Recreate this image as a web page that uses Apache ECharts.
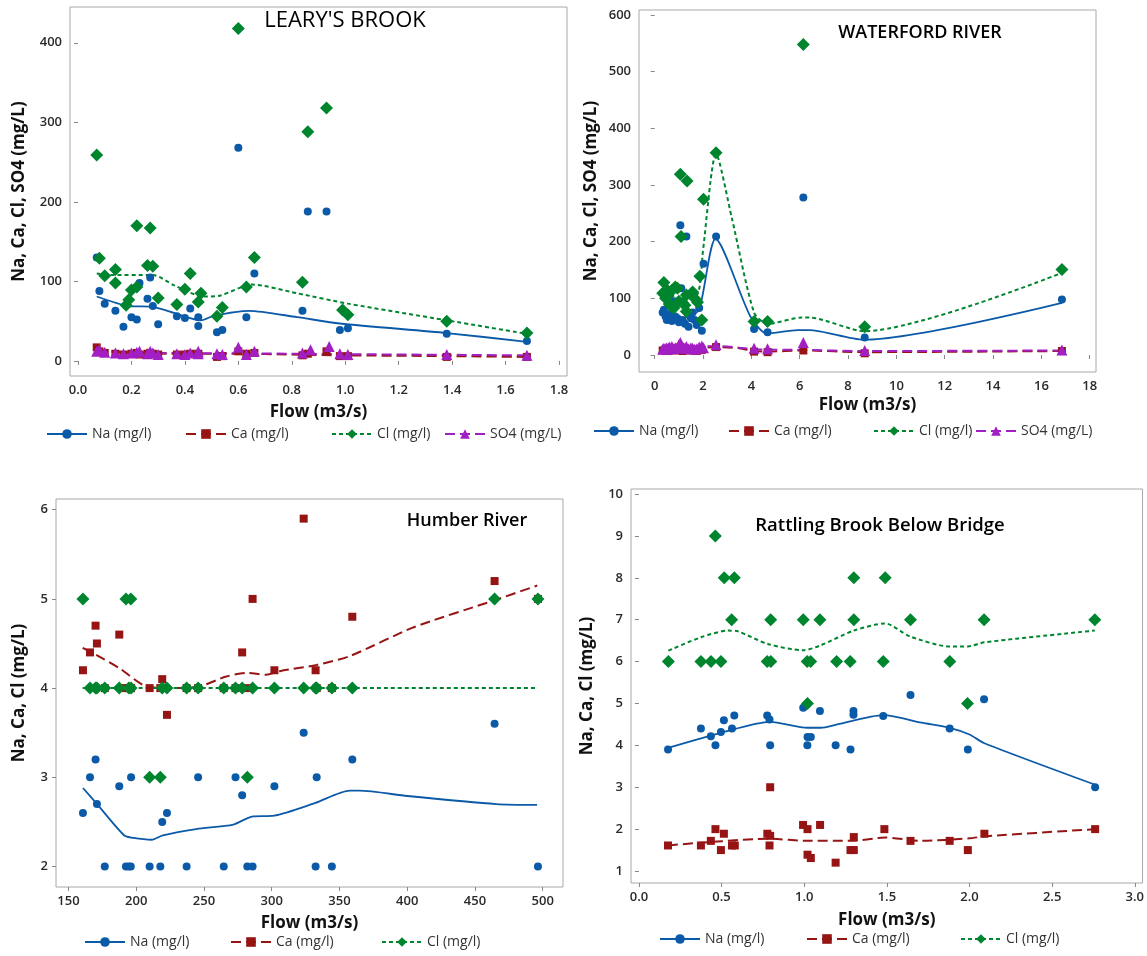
<!DOCTYPE html>
<html><head><meta charset="utf-8">
<script src="https://cdn.jsdelivr.net/npm/echarts/dist/echarts.min.js"></script>
<style>html,body{margin:0;padding:0;background:#fff}#c{width:1147px;height:956px}</style>
</head><body><div id="c"></div><script>
// ---------- Panel titles ----------
const titles = ["LEARY'S BROOK", "WATERFORD RIVER", "Humber River", "Rattling Brook Below Bridge"];
const xTitle = "Flow (m3/s)";
const yTitles = ["Na, Ca, Cl, SO4 (mg/L)", "Na, Ca, Cl, SO4 (mg/L)", "Na, Ca, Cl (mg/L)", "Na, Ca, Cl (mg/L)"];

// ---------- Tick labels ----------
const xTicks1 = [0.0,0.2,0.4,0.6,0.8,1.0,1.2,1.4,1.6,1.8];
const yTicks1 = [0,100,200,300,400];
const xTicks2 = [0,2,4,6,8,10,12,14,16,18];
const yTicks2 = [0,100,200,300,400,500,600];
const xTicks3 = [150,200,250,300,350,400,450,500];
const yTicks3 = [2,3,4,5,6];
const xTicks4 = [0.0,0.5,1.0,1.5,2.0,2.5,3.0];
const yTicks4 = [1,2,3,4,5,6,7,8,9,10];

// ---------- LEARY'S BROOK [flow, value] ----------
const learyNa = [[0.07,130],[0.08,88],[0.10,72],[0.14,63],[0.17,43],[0.20,55],[0.22,52],[0.23,98],[0.26,78],[0.27,105],[0.28,69],[0.30,46],[0.37,56],[0.40,54],[0.42,66],[0.45,55],[0.45,44],[0.52,36],[0.54,39],[0.60,268],[0.63,55],[0.66,110],[0.84,63],[0.86,188],[0.93,188],[0.98,39],[1.01,41],[1.38,34],[1.68,25]];
const learyCa = [[0.07,17],[0.08,12],[0.10,10],[0.14,9],[0.17,8],[0.20,9],[0.22,10],[0.23,8],[0.26,9],[0.27,10],[0.28,9],[0.30,8],[0.37,8],[0.40,8],[0.42,9],[0.45,8],[0.45,9],[0.52,5],[0.54,6],[0.60,12],[0.63,9],[0.66,10],[0.84,7],[0.86,9],[0.93,12],[0.98,6],[1.01,6],[1.38,5],[1.68,5]];
const learyCl = [[0.07,259],[0.08,129],[0.10,107],[0.14,115],[0.14,98],[0.18,70],[0.19,77],[0.20,89],[0.22,93],[0.22,170],[0.27,167],[0.26,120],[0.28,119],[0.30,79],[0.37,71],[0.40,90],[0.42,110],[0.45,74],[0.46,85],[0.52,56],[0.54,67],[0.60,418],[0.63,93],[0.66,130],[0.84,99],[0.86,288],[0.93,318],[0.99,64],[1.01,58],[1.38,50],[1.68,35]];
const learySO4 = [[0.07,12],[0.08,14],[0.10,11],[0.14,10],[0.17,9],[0.20,10],[0.22,11],[0.23,12],[0.26,9],[0.27,12],[0.28,10],[0.30,8],[0.37,9],[0.40,8],[0.42,10],[0.45,12],[0.45,9],[0.52,9],[0.54,8],[0.60,17],[0.63,8],[0.66,12],[0.84,10],[0.87,14],[0.94,18],[0.98,9],[1.01,8],[1.38,8],[1.68,7]];
const learyNaFit = [[0.07,81],[0.19,69],[0.28,68],[0.37,59],[0.46,51],[0.51,57],[0.64,63],[0.82,55],[0.98,47],[1.38,35],[1.68,24]];
const learyCaFit = [[0.07,14],[0.20,10],[0.40,9],[0.60,9],[0.80,8],[1.00,7],[1.38,6],[1.68,5]];
const learyClFit = [[0.07,110],[0.12,108],[0.28,108],[0.36,95],[0.47,81],[0.53,82],[0.65,96],[0.82,85],[1.01,72],[1.38,51],[1.68,34]];
const learySO4Fit = [[0.07,12],[0.30,10],[0.60,9.5],[1.00,8.5],[1.68,7]];

// ---------- WATERFORD RIVER ----------
const waterNa = [[0.33,75],[0.38,80],[0.45,68],[0.5,62],[0.56,72],[0.6,65],[0.66,70],[0.71,60],[0.79,95],[0.85,68],[0.94,65],[1.0,58],[1.06,229],[1.1,118],[1.16,62],[1.25,55],[1.31,209],[1.4,50],[1.5,65],[1.57,75],[1.65,62],[1.74,53],[1.84,83],[1.95,43],[2.02,161],[2.54,209],[4.11,46],[4.67,40],[6.15,278],[8.69,31],[16.85,98]];
const waterCa = [[0.33,8],[0.45,10],[0.56,7],[0.66,9],[0.79,12],[0.94,8],[1.06,14],[1.16,7],[1.31,10],[1.5,8],[1.74,7],[1.95,9],[2.54,14],[4.11,6],[4.67,5],[6.15,8],[8.69,3],[16.85,7]];
const waterCl = [[0.33,109],[0.38,128],[0.45,100],[0.5,115],[0.56,104],[0.6,90],[0.66,87],[0.71,114],[0.79,83],[0.85,120],[0.94,118],[1.0,95],[1.06,319],[1.09,209],[1.16,92],[1.25,88],[1.31,106],[1.31,77],[1.34,307],[1.57,111],[1.65,100],[1.77,93],[1.87,139],[1.95,62],[2.02,275],[2.54,357],[4.11,59],[4.67,59],[6.15,548],[8.69,50],[16.85,151]];
const waterSO4 = [[0.33,10],[0.38,12],[0.45,11],[0.5,13],[0.56,10],[0.6,14],[0.66,12],[0.71,15],[0.79,11],[0.85,13],[0.94,12],[1.0,18],[1.06,22],[1.1,16],[1.16,14],[1.25,12],[1.31,15],[1.4,11],[1.5,13],[1.57,12],[1.65,10],[1.74,11],[1.84,14],[1.95,16],[2.02,13],[2.54,18],[4.11,12],[4.67,11],[6.15,22],[8.69,8],[16.85,9]];
const waterNaFit = [[0.33,72],[0.6,68],[1.0,65],[1.4,68],[1.84,80],[2.52,205],[3.96,68],[4.64,38],[5.92,44],[6.4,44],[8.64,27],[16.85,92]];
const waterCaFit = [[0.33,8],[1.0,9],[2.54,14],[3.5,12],[4.11,7],[4.67,6],[6.15,8],[8.69,5],[16.85,7]];
const waterClFit = [[0.33,100],[0.8,98],[1.3,95],[1.8,110],[2.0,185],[2.54,355],[3.2,240],[4.11,75],[4.67,55],[6.1,66],[6.4,66],[8.69,42],[16.85,145]];
const waterSO4Fit = [[0.33,10],[1.0,13],[2.54,16],[3.5,13],[4.11,10],[6.15,9],[8.69,7],[16.85,8]];

// ---------- HUMBER RIVER ----------
const humFlow = [160.7,165.9,170,171,176.8,187.5,192.4,194.6,196,196.2,209.9,217.8,219.2,222.7,237.2,245.7,264.6,273.3,278.2,282,285.9,302,323.6,332.4,333.2,344.4,359.5,464.5,496.5];
const humNa = [2.6,3.0,3.2,2.7,2.0,2.9,2.0,2.0,2.0,3.0,2.0,2.0,2.5,2.6,2.0,3.0,2.0,3.0,2.8,2.0,2.0,2.9,3.5,2.0,3.0,2.0,3.2,3.6,2.0];
const humCa = [4.2,4.4,4.7,4.5,4.0,4.6,4.0,4.0,4.0,4.0,4.0,4.0,4.1,3.7,4.0,4.0,4.0,4.0,4.4,4.0,5.0,4.2,5.9,4.2,4.0,4.0,4.8,5.2,5.0];
const humCl = [5,4,4,4,4,4,5,4,5,4,3,3,4,4,4,4,4,4,4,3,4,4,4,4,4,4,4,5,5];
const humNaFit = [[160.7,2.88],[170.5,2.71],[191,2.35],[197.9,2.32],[211.5,2.30],[219.7,2.35],[244.3,2.42],[271.7,2.47],[285.4,2.56],[301.8,2.57],[331.8,2.71],[357.8,2.85],[364.7,2.85],[400.2,2.79],[465.8,2.70],[495.9,2.69]];
const humCaFit = [[160.5,4.45],[170.8,4.37],[187.9,4.22],[207.6,4.02],[229.7,4.0],[246.9,4.02],[266.5,4.13],[281.3,4.17],[296,4.15],[306,4.19],[333.2,4.26],[357.8,4.36],[404.5,4.68],[463.5,4.98],[496,5.15]];
const humClFit = [[160.5,4],[496,4]];

// ---------- RATTLING BROOK BELOW BRIDGE ----------
const ratNa = [[0.176,3.9],[0.375,4.4],[0.435,4.22],[0.463,4.0],[0.496,4.32],[0.514,4.6],[0.563,4.4],[0.577,4.71],[0.776,4.71],[0.79,4.62],[0.794,4.0],[0.994,4.9],[1.019,4.0],[1.02,4.2],[1.04,4.2],[1.095,4.82],[1.19,4.0],[1.28,3.9],[1.298,4.82],[1.298,4.73],[1.478,4.7],[1.643,5.2],[1.88,4.4],[1.99,3.9],[2.088,5.1],[2.76,3.0]];
const ratCa = [[0.176,1.61],[0.375,1.61],[0.435,1.72],[0.463,2.0],[0.496,1.5],[0.514,1.89],[0.563,1.61],[0.58,1.61],[0.777,1.89],[0.794,3.0],[0.794,1.84],[0.79,1.61],[0.993,2.1],[1.02,2.0],[1.02,1.39],[1.04,1.31],[1.096,2.1],[1.19,1.2],[1.28,1.5],[1.30,1.5],[1.30,1.81],[1.485,2.0],[1.643,1.72],[1.88,1.72],[1.99,1.5],[2.09,1.89],[2.76,2.0]];
const ratCl = [[0.178,6],[0.375,6],[0.436,6],[0.462,9],[0.496,6],[0.516,8],[0.561,7],[0.577,8],[0.776,6],[0.798,6],[0.797,7],[0.994,7],[1.018,6],[1.02,5],[1.039,6],[1.095,7],[1.196,6],[1.278,6],[1.3,8],[1.3,7],[1.478,6],[1.49,8],[1.643,7],[1.881,6],[1.988,5],[2.088,7],[2.758,7]];
const ratNaFit = [[0.176,3.94],[0.496,4.3],[0.794,4.56],[1.02,4.42],[1.1,4.42],[1.2,4.5],[1.48,4.72],[1.71,4.54],[1.88,4.42],[2.0,4.26],[2.09,4.05],[2.76,3.06]];
const ratCaFit = [[0.176,1.61],[0.783,1.77],[1.03,1.72],[1.29,1.72],[1.49,1.8],[1.71,1.72],[2.0,1.78],[2.1,1.83],[2.76,2.0]];
const ratClFit = [[0.178,6.26],[0.375,6.58],[0.54,6.74],[0.6,6.72],[0.78,6.42],[0.994,6.27],[1.095,6.38],[1.3,6.74],[1.49,6.91],[1.64,6.6],[1.88,6.36],[1.99,6.36],[2.09,6.46],[2.758,6.74]];

// ---------- build ----------
const FONT = '"Open Sans","Noto Sans",sans-serif';
const zip = (xs, ys) => xs.map((x, i) => [x, ys[i]]);
const STY = {
  na: {name:'Na (mg/l)', color:'#0b5aa8', symbol:'circle', size:8, dash:'solid', lw:1.8},
  ca: {name:'Ca (mg/l)', color:'#961414', symbol:'rect', size:8, dash:[10,5], lw:2},
  cl: {name:'Cl (mg/l)', color:'#00852f', symbol:'diamond', size:13, dash:[4,3], lw:2},
  so: {name:'SO4 (mg/L)', color:'#a21fc4', symbol:'triangle', size:11, dash:[10,5], lw:2}
};
const panels = [
  {grid:{left:70, top:7, width:497, height:369}, xr:[-0.03,1.83], yr:[-19,445], xt:xTicks1, yt:yTicks1, dec:1,
   keys:['na','ca','cl','so'], pts:{na:learyNa, ca:learyCa, cl:learyCl, so:learySO4}, fit:{na:learyNaFit, ca:learyCaFit, cl:learyClFit, so:learySO4Fit},
   title:{x:345, y:21, size:22, weight:'normal'}, xGap:28, yGap:42,
   legend:{y:436, xs:[46,185,331,444]}},
  {grid:{left:639, top:10, width:457, height:362}, xr:[-0.65,18.26], yr:[-30,609], xt:xTicks2, yt:yTicks2, dec:0,
   keys:['na','ca','cl','so'], pts:{na:waterNa, ca:waterCa, cl:waterCl, so:waterSO4}, fit:{na:waterNaFit, ca:waterCaFit, cl:waterClFit, so:waterSO4Fit},
   title:{x:920, y:33, size:18, weight:'600'}, xGap:25, yGap:39,
   legend:{y:433, xs:[593,728,873,975]}},
  {grid:{left:56, top:499, width:507, height:388}, xr:[140.8,515], yr:[1.77,6.12], xt:xTicks3, yt:yTicks3, dec:0,
   keys:['na','ca','cl'], pts:{na:zip(humFlow,humNa), ca:zip(humFlow,humCa), cl:zip(humFlow,humCl)}, fit:{na:humNaFit, ca:humCaFit, cl:humClFit},
   title:{x:467, y:521, size:18, weight:'600'}, xGap:28, yGap:28,
   legend:{y:944, xs:[84,230,381]}},
  {grid:{left:631, top:489, width:512, height:394}, xr:[-0.048,3.047], yr:[0.714,10.12], xt:xTicks4, yt:yTicks4, dec:1,
   keys:['na','ca','cl'], pts:{na:ratNa, ca:ratCa, cl:ratCl}, fit:{na:ratNaFit, ca:ratCaFit, cl:ratClFit},
   title:{x:880, y:526, size:18.5, weight:'600'}, xGap:29, yGap:35,
   legend:{y:941, xs:[659,806,960]}}
];

const grids = [], xAxes = [], yAxes = [], series = [], legends = [], graphics = [];
const labelStyle = {fontSize:13, color:'#2a2a2a', fontFamily:FONT, fontWeight:600};
const nameStyle = {fontSize:17, color:'#111', fontFamily:FONT, fontWeight:'bold'};
panels.forEach((p, i) => {
  grids.push(Object.assign({show:true, borderColor:'#a8a8a8', borderWidth:1, backgroundColor:'#fff'}, p.grid));
  xAxes.push({type:'value', gridIndex:i, min:p.xr[0], max:p.xr[1],
    name:xTitle, nameLocation:'middle', nameGap:p.xGap, nameTextStyle:nameStyle,
    axisLine:{show:false}, splitLine:{show:false},
    axisTick:{show:true, length:4, customValues:p.xt, lineStyle:{color:'#888'}},
    axisLabel:Object.assign({customValues:p.xt, margin:8, formatter:v => v.toFixed(p.dec)}, labelStyle)});
  yAxes.push({type:'value', gridIndex:i, min:p.yr[0], max:p.yr[1],
    name:yTitles[i], nameLocation:'middle', nameGap:p.yGap, nameRotate:90, nameTextStyle:nameStyle,
    axisLine:{show:false}, splitLine:{show:false},
    axisTick:{show:true, length:4, customValues:p.yt, lineStyle:{color:'#888'}},
    axisLabel:Object.assign({customValues:p.yt, margin:8}, labelStyle)});
  p.keys.forEach(k => {
    const s = STY[k];
    series.push({type:'line', name:s.name, xAxisIndex:i, yAxisIndex:i, data:p.fit[k],
      showSymbol:false, symbol:s.symbol, symbolSize:s.size, smooth:0.25, z:2,
      lineStyle:{color:s.color, width:s.lw, type:s.dash}, itemStyle:{color:s.color}});
  });
  p.keys.forEach(k => {
    const s = STY[k];
    series.push({type:'scatter', name:s.name, xAxisIndex:i, yAxisIndex:i, data:p.pts[k],
      symbol:s.symbol, symbolSize:s.size, z:3, itemStyle:{color:s.color, opacity:1}});
  });
  p.keys.forEach((k, j) => {
    legends.push({left:p.legend.xs[j], top:p.legend.y - 9, data:[STY[k].name], itemWidth:40, itemHeight:12,
      itemGap:0, padding:0, textStyle:{fontSize:14, color:'#333', fontFamily:FONT}});
  });
  graphics.push({type:'text', x:p.title.x, y:p.title.y, style:{text:titles[i], textAlign:'center', textVerticalAlign:'middle',
    font:p.title.weight + ' ' + p.title.size + 'px ' + FONT, fill:'#000'}});
});

const chart = echarts.init(document.getElementById('c'), null, {renderer:'canvas'});
chart.setOption({animation:false, backgroundColor:'#fff', grid:grids, xAxis:xAxes, yAxis:yAxes,
  series:series, legend:legends, graphic:graphics});
</script></body></html>
